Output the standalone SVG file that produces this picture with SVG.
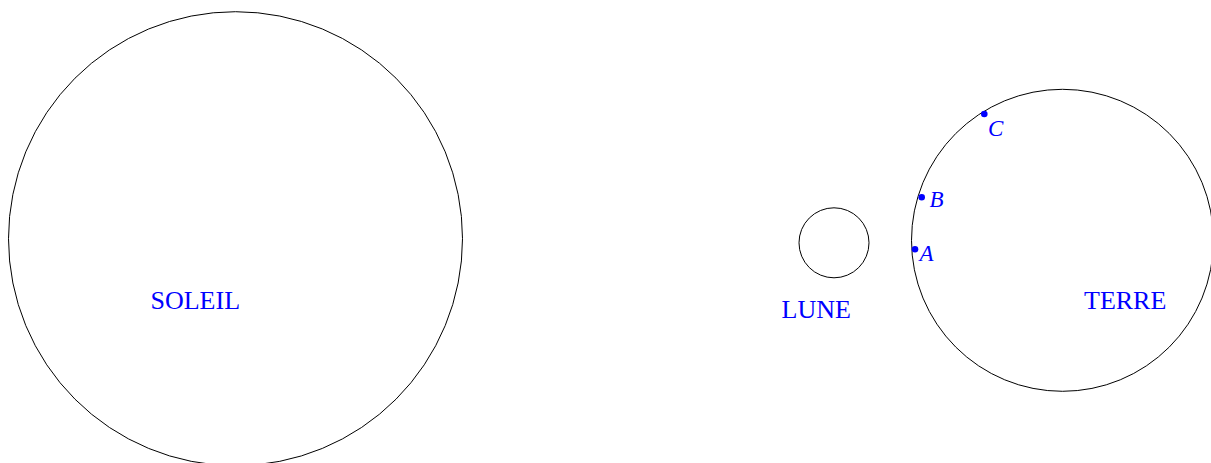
<svg xmlns="http://www.w3.org/2000/svg" width="1211" height="463" viewBox="0 0 1211 463">
<style>
.body{fill:none;stroke:#000;stroke-width:1}
.lbl{font-family:"Liberation Serif","Times New Roman",serif;font-size:26px;fill:#0000ff}
.pt{font-family:"Liberation Serif","Times New Roman",serif;font-size:23px;font-style:italic;fill:#0000ff}
.dot{fill:#0000ff}
</style>
<rect width="1211" height="463" fill="#fff"/>
<g id="soleil">
<circle class="body" cx="235.5" cy="238.7" r="227"/>
<text class="lbl" x="150.5" y="309.3">SOLEIL</text>
</g>
<g id="lune">
<circle class="body" cx="834" cy="242.8" r="35"/>
<text class="lbl" x="781.5" y="317.5">LUNE</text>
</g>
<g id="terre">
<circle class="body" cx="1062.5" cy="240.3" r="151"/>
<text class="lbl" x="1084" y="308.5">TERRE</text>
</g>
<g id="pointA">
<circle class="dot" cx="915" cy="249.3" r="3.3"/>
<text class="pt" x="919.5" y="261">A</text>
</g>
<g id="pointB">
<circle class="dot" cx="921.7" cy="197.3" r="3.3"/>
<text class="pt" x="929.5" y="206.7">B</text>
</g>
<g id="pointC">
<circle class="dot" cx="984.3" cy="114" r="3.3"/>
<text class="pt" x="988" y="136">C</text>
</g>
<g id="connectors"/>
</svg>
